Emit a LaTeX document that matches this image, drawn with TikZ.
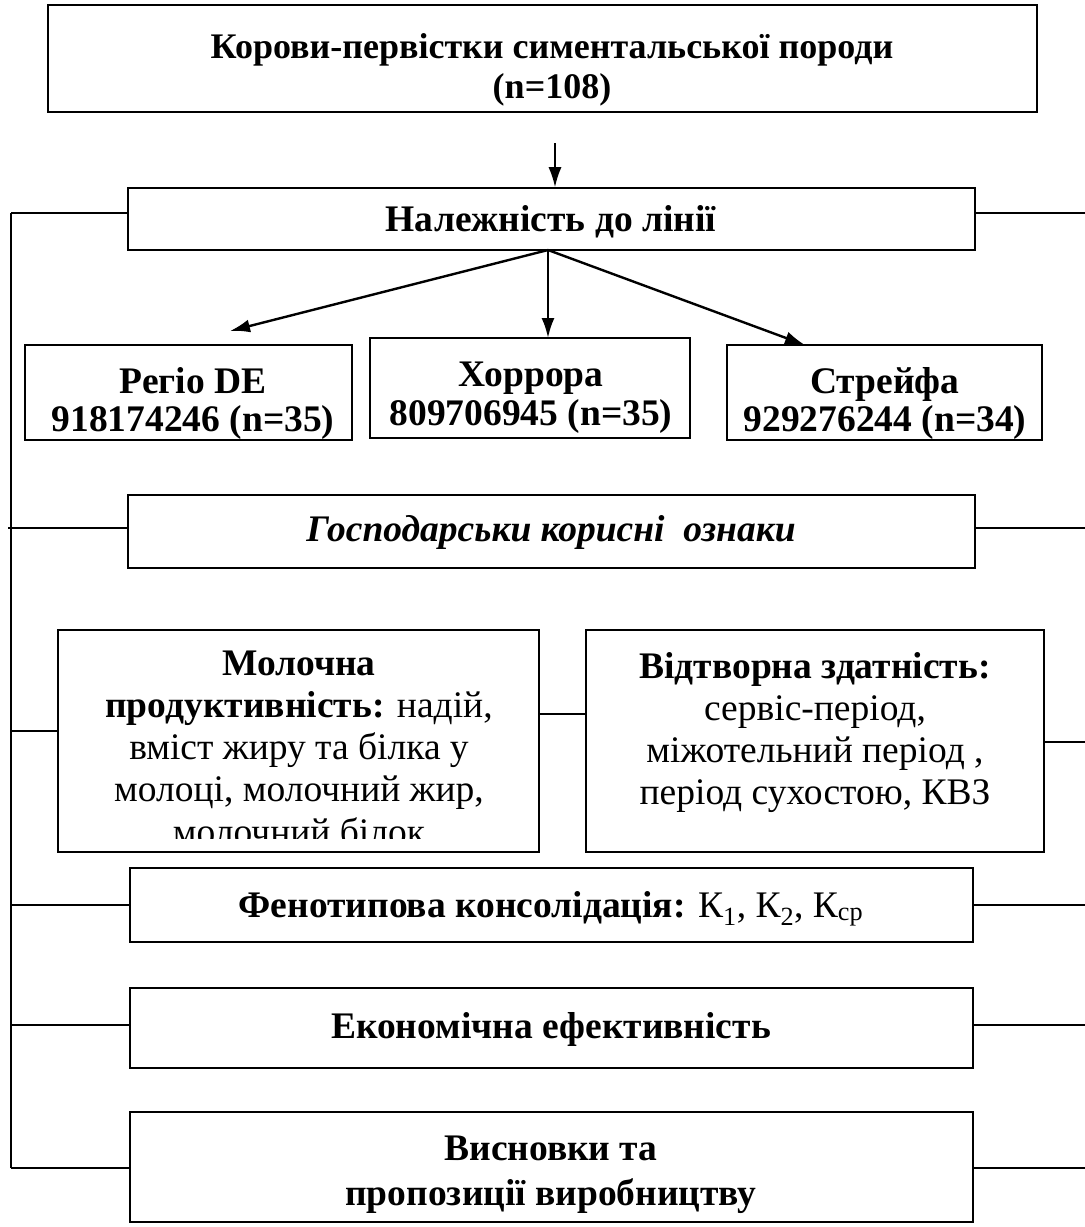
\documentclass[tikz,border=0pt]{standalone}
\usepackage{fontspec}
\setmainfont{Liberation Serif}
\usetikzlibrary{arrows.meta}
\begin{document}
\begin{tikzpicture}[x=1pt,y=-1pt,
  box/.style={draw,line width=1.6pt,inner sep=0pt},
  ln/.style={line width=1.6pt},
  arr/.style={line width=2.4pt,-{Latex[length=20pt,width=13pt]}},
  t/.style={inner sep=0pt,anchor=base,font=\fontsize{37.5}{41}\selectfont\bfseries},
  tr/.style={inner sep=0pt,anchor=base,font=\fontsize{37.5}{41}\selectfont}]
\useasboundingbox (0,0) rectangle (1085,1227);
% boxes
\node[box,minimum width=989pt,minimum height=107pt] (top) at (542.5,58.5) {};
\node[box,minimum width=847pt,minimum height=62pt] (nal) at (551.5,219) {};
\node[box,minimum width=327pt,minimum height=95pt] (reg) at (188.5,392.5) {};
\node[box,minimum width=320pt,minimum height=100pt] (hor) at (530,388) {};
\node[box,minimum width=315pt,minimum height=95pt] (str) at (884.5,392.5) {};
\node[box,minimum width=847pt,minimum height=73pt] (gos) at (551.5,531.5) {};
\node[box,minimum width=481pt,minimum height=222pt] (mol) at (298.5,741) {};
\node[box,minimum width=458pt,minimum height=222pt] (vid) at (815,741) {};
\node[box,minimum width=843pt,minimum height=74pt] (fen) at (551.5,905) {};
\node[box,minimum width=843pt,minimum height=80pt] (eko) at (551.5,1028) {};
\node[box,minimum width=843pt,minimum height=110pt] (vys) at (551.5,1167) {};
% texts
\node[t,font=\fontsize{36}{40}\selectfont\bfseries] (top1) at (552,58) {Корови-первістки симентальської породи};
\node[t,font=\fontsize{36}{40}\selectfont\bfseries] (top2) at (552,98) {(n=108)};
\node[t] (nal1) at (551,231) {Належність до лінії};
\node[t] (reg1) at (193,393) {Регіо DE};
\node[t] (reg2) at (193,431) {918174246 (n=35)};
\node[t] (hor1) at (531,386) {Хоррора};
\node[t] (hor2) at (531,425) {809706945 (n=35)};
\node[t] (str1) at (885,393) {Стрейфа};
\node[t] (str2) at (885,431) {929276244 (n=34)};
\node[t,font=\fontsize{37.5}{41}\selectfont\bfseries\itshape] (gos1) at (551,541) {Господарськи корисні~ ознаки};
\begin{scope}
\clip (mol.north west) rectangle ([yshift=14pt]mol.south east);
\node[t] (m1) at (299,675) {Молочна};
\node[t] (m2) at (299,717) {продуктивність: \mdseries надій,};
\node[tr] (m3) at (299,759) {вміст жиру та білка у};
\node[tr] (m4) at (299,801) {молоці, молочний жир,};
\node[tr] (m5) at (299,844) {молочний білок};
\end{scope}
\node[t] (v1) at (815,678) {Відтворна здатність:};
\node[tr] (v2) at (815,720) {сервіс-період,};
\node[tr] (v3) at (815,762) {міжотельний період ,};
\node[tr] (v4) at (815,804) {період сухостою, КВЗ};
\node[t] (fen1) at (551,917) {Фенотипова консолідація: \mdseries К\textsubscript{1}, К\textsubscript{2}, К\textsubscript{ср}};
\node[t] (eko1) at (551,1038) {Економічна ефективність};
\node[t] (vys1) at (551,1160) {Висновки та};
\node[t] (vys2) at (551,1205) {пропозиції виробництву};
% arrows
\coordinate (tb) at (555,143);
\draw[arr,line width=1.8pt] (tb) -- (nal.north -| tb);
\coordinate (src) at (548,250);
\draw[arr] (src) -- (230,331);
\draw[arr] (src) -- (548,338);
\draw[arr] (src) -- (805,345);
% left bus
\coordinate (L1) at (11,213);
\coordinate (L2) at (8,528);
\coordinate (L3) at (11,731);
\coordinate (L4) at (11,905);
\coordinate (L5) at (11,1025);
\coordinate (L6) at (11,1168);
\draw[ln] (L1) -- (L6);
\draw[ln] (L1) -- (L1 -| nal.west);
\draw[ln] (L2) -- (L2 -| gos.west);
\draw[ln] (L3) -- (L3 -| mol.west);
\draw[line width=2.4pt] (L4) -- (L4 -| fen.west);
\draw[ln] (L5) -- (L5 -| eko.west);
\draw[ln] (L6) -- (L6 -| vys.west);
% right stubs
\coordinate (R1) at (1085,213);
\coordinate (R2) at (1085,528);
\coordinate (R3) at (1085,742);
\coordinate (R4) at (1085,905);
\coordinate (R5) at (1085,1025);
\coordinate (R6) at (1085,1168);
\draw[ln] (R1) -- (R1 -| nal.east);
\draw[ln] (R2) -- (R2 -| gos.east);
\draw[ln] (R3) -- (R3 -| vid.east);
\draw[line width=2.4pt] (R4) -- (R4 -| fen.east);
\draw[ln] (R5) -- (R5 -| eko.east);
\draw[ln] (R6) -- (R6 -| vys.east);
% middle link
\coordinate (M) at (560,714);
\draw[ln] (M -| mol.east) -- (M -| vid.west);
\end{tikzpicture}
\end{document}
